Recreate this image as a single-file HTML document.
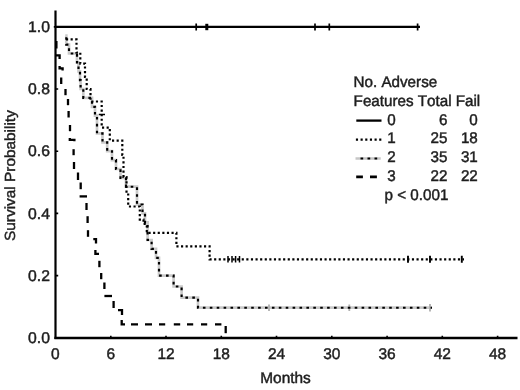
<!DOCTYPE html>
<html><head><meta charset="utf-8"><title>Survival Probability</title>
<style>
html,body{margin:0;padding:0;background:#fff;}
body{width:520px;height:390px;overflow:hidden;}
svg{display:block;}
text{font-family:"Liberation Sans",Arial,sans-serif;font-size:15.2px;fill:#1e1e1e;stroke:#1e1e1e;stroke-width:0.45px;font-kerning:none;text-rendering:geometricPrecision;}
</style></head><body>
<svg width="520" height="390" viewBox="0 0 520 390">
<rect width="520" height="390" fill="#fff"/>
<g>
<!-- axes -->
<g stroke="#000" fill="none">
<path d="M55.5,10.5V339.1" stroke-width="2.2"/>
<path d="M54.4,338H517.5" stroke-width="2.3"/>
<!-- y ticks -->
<path d="M55.5,89H58.2M55.5,151.2H58.2M55.5,213.4H58.2M55.5,275.6H58.2M53.8,26.9H56" stroke-width="1.6"/>
<!-- x ticks -->
<path d="M110.8,338V335.7M166.0,338V335.7M221.3,338V335.7M276.5,338V335.7M331.8,338V335.7M387.1,338V335.7M442.3,338V335.7M497.6,338V335.7" stroke-width="1.6"/>
</g>
<!-- group 0 -->
<g stroke="#000" fill="none">
<path d="M55.5,26.9H420" stroke-width="2.3"/>
<path d="M196.2,23.6V30.4M315,23.6V30.4M329.3,23.6V30.4M417.6,23.6V30.4" stroke-width="1.7"/>
<path d="M206.8,23.8V30.2" stroke-width="3"/>
</g>
<!-- group 2 -->
<path d="M65.3,35.7H66.3V44.6H69.0V53.5H77.0V62.4H78.5V71.3H80.0V80.1H80.6V89.0H83.3V97.9H92.0V106.8H95.0V115.7H97.0V133.4H102.5V142.3H107.2V151.2H112.0V160.1H116.0V169.0H120.5V177.9H126.0V186.7H137.0V204.5H142.5V213.4H145.0V222.3H147.6V240.0H151.6V248.9H156.0V257.8H159.0V275.6H173.6V286.5H181.6V297.6H198.0V307.7H432.0" fill="none" stroke="#cacaca" stroke-width="2.7" stroke-linejoin="miter"/>
<path d="M430,304V311.4M349.3,304.4V311M269,304.4V311" fill="none" stroke="#b0b0b0" stroke-width="1.8"/>
<path d="M65.3,35.7H66.3V44.6H69.0V53.5H77.0V62.4H78.5V71.3H80.0V80.1H80.6V89.0H83.3V97.9H92.0V106.8H95.0V115.7H97.0V133.4H102.5V142.3H107.2V151.2H112.0V160.1H116.0V169.0H120.5V177.9H126.0V186.7H137.0V204.5H142.5V213.4H145.0V222.3H147.6V240.0H151.6V248.9H156.0V257.8H159.0V275.6H173.6V286.5H181.6V297.6H198.0V307.7H432.0" fill="none" stroke="#000" stroke-width="2.15" stroke-dasharray="2.6 4.3" stroke-dashoffset="4.4"/>
<!-- group 1 -->
<path d="M66.0,39.4H76.5V52.6H80.3V63.6H85.0V77.0H86.7V89.0H90.5V101.5H101.7V127.6H109.8V140.6H122.3V155.0H123.5V177.0H126.5V193.0H128.2V206.5H139.8V219.6H143.5V224.0H146.8V232.9H176.4V246.4H209.6V259.3H464.0" fill="none" stroke="#000" stroke-width="2.2" stroke-dasharray="2.15 2.45"/>
<path d="M228,256V262.6M232,256V262.6M235.6,256V262.6M239.5,256V262.6M98.8,114.4H105" fill="none" stroke="#000" stroke-width="1.5"/>
<path d="M408,255.8V262.8M430,255.8V262.8M461.8,255.8V262.8" fill="none" stroke="#000" stroke-width="1.9"/>
<!-- group 3 -->
<g stroke="#000" stroke-width="2.3" fill="none">
<path d="M56.4,41V48.5"/>
<path d="M56,55.4H59.6V59"/>
<path d="M59.6,66V68.3H62.6V70.5"/>
<path d="M61.2,77.5V84"/>
<path d="M65.5,89V95.2"/>
<path d="M68,99V105.2"/>
<path d="M68.6,111V117.5"/>
<path d="M70,125V131.2"/>
<path d="M69.8,138V139.8H74.4V141.2"/>
<path d="M73.6,149.2V155.2"/>
<path d="M74,162V169"/>
<path d="M78,172.5V180"/>
<path d="M80.7,182.5V189.2"/>
<path d="M79.6,196.4H87"/>
<path d="M86.5,203V210"/>
<path d="M87.6,216.2V223"/>
<path d="M88,230.2V236.8"/>
<path d="M93.3,239.2H96V243.5"/>
<path d="M95.4,250V253.8H99"/>
<path d="M99.4,260.8V267.2"/>
<path d="M101.2,273V279.2"/>
<path d="M104.4,282.5V289"/>
<path d="M104.4,296H112"/>
<path d="M113.6,301V308"/>
<path d="M118,310.2H122V315"/>
<path d="M121.7,320V324.4H125"/>
<path d="M131,324.4H138M145,324.4H152M159,324.4H165.2M173.8,324.4H180.2M187,324.4H193.2M201,324.4H207.2M215,324.4H221.4"/>
<path d="M225.7,326V333.2"/>
</g>
<!-- legend samples -->
<g fill="none">
<path d="M356.3,120.6H381.5" stroke="#000" stroke-width="2.3"/>
<path d="M355.9,139.6H381.5" stroke="#000" stroke-width="2.2" stroke-dasharray="2.15 2.51"/>
<path d="M355.5,158.5H380.7" stroke="#c6c6c6" stroke-width="2.5"/>
<path d="M360.5,158.5H380" stroke="#000" stroke-width="2" stroke-dasharray="2.7 4.3"/>
<path d="M356.2,176.8H362.9M370,176.8H376.9" stroke="#000" stroke-width="2.7"/>
</g>
<!-- y tick labels -->
<g text-anchor="end">
<text transform="translate(49.9,31.8) scale(1.035,1.015)">1.0</text>
<text transform="translate(49.9,94.1) scale(1.035,1.015)">0.8</text>
<text transform="translate(49.9,156.4) scale(1.035,1.015)">0.6</text>
<text transform="translate(49.9,218.6) scale(1.035,1.015)">0.4</text>
<text transform="translate(49.9,280.9) scale(1.035,1.015)">0.2</text>
<text transform="translate(49.9,343.2) scale(1.035,1.015)">0.0</text>
</g>
<!-- x tick labels -->
<g text-anchor="middle">
<text transform="translate(55.3,358.5) scale(1.02,1.015)">0</text>
<text transform="translate(110.8,358.5) scale(1.02,1.015)">6</text>
<text transform="translate(166.0,358.5) scale(1.02,1.015)">12</text>
<text transform="translate(221.3,358.5) scale(1.02,1.015)">18</text>
<text transform="translate(276.5,358.5) scale(1.02,1.015)">24</text>
<text transform="translate(331.8,358.5) scale(1.02,1.015)">30</text>
<text transform="translate(387.1,358.5) scale(1.02,1.015)">36</text>
<text transform="translate(442.3,358.5) scale(1.02,1.015)">42</text>
<text transform="translate(497.6,358.5) scale(1.02,1.015)">48</text>
<text transform="translate(285.5,383.3) scale(1.015,1.015)">Months</text>
</g>
<text transform="translate(15.1,241) rotate(-90) scale(1.013,0.965)">Survival Probability</text>
<!-- legend text -->
<text transform="translate(353.6,87.0) scale(1,1.015)">No. Adverse</text>
<text transform="translate(353.6,105.5) scale(1,1.015)">Features Total Fail</text>
<g>
<text transform="translate(387.2,125.2) scale(1,1.015)">0</text>
<text transform="translate(387.2,143.3) scale(1,1.015)">1</text>
<text transform="translate(387.2,162.4) scale(1,1.015)">2</text>
<text transform="translate(387.2,181.2) scale(1,1.015)">3</text>
</g>
<g text-anchor="end">
<text transform="translate(447.5,125.2) scale(1,1.015)">6</text>
<text transform="translate(447.5,143.3) scale(1,1.015)">25</text>
<text transform="translate(447.5,162.4) scale(1,1.015)">35</text>
<text transform="translate(447.5,181.2) scale(1,1.015)">22</text>
<text transform="translate(477.8,125.2) scale(1,1.015)">0</text>
<text transform="translate(477.8,143.3) scale(1,1.015)">18</text>
<text transform="translate(477.8,162.4) scale(1,1.015)">31</text>
<text transform="translate(477.8,181.2) scale(1,1.015)">22</text>
</g>
<text transform="translate(384.6,200.1) scale(1,1.015)">p &lt; 0.001</text>
</g>
</svg>
</body></html>
